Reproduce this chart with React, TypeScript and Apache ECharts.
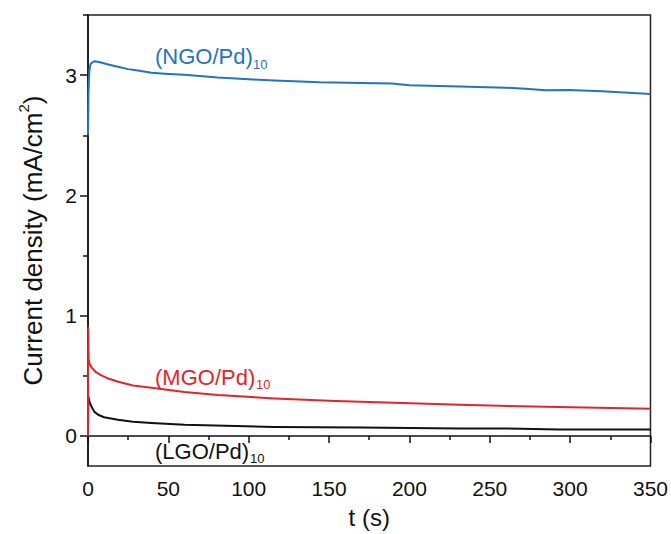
import React, { useEffect, useRef } from "react";
import * as echarts from "echarts";

const ngoT = [0, 0.3, 0.8, 1.5, 3, 4.3, 6, 8, 12, 18.6, 25, 30, 39.5, 50, 60, 80.8, 100, 116, 144, 170, 189, 200, 231, 260, 272, 285, 299, 320, 350];
const ngoV = [2.5, 2.85, 3.03, 3.09, 3.11, 3.115, 3.112, 3.105, 3.09, 3.07, 3.05, 3.04, 3.02, 3.01, 3.003, 2.98, 2.965, 2.955, 2.94, 2.935, 2.93, 2.915, 2.905, 2.895, 2.887, 2.874, 2.876, 2.865, 2.843];

const mgoT = [0, 0.15, 0.4, 1, 2.5, 5, 8, 12, 18.8, 28, 39.5, 60, 80.8, 116, 154, 196, 231, 293, 350];
const mgoV = [0, 0.9, 0.64, 0.6, 0.565, 0.53, 0.505, 0.48, 0.45, 0.42, 0.4, 0.365, 0.34, 0.312, 0.29, 0.273, 0.259, 0.24, 0.226];

const lgoT = [0, 0.2, 0.6, 1, 2.3, 4, 6.3, 10, 18.6, 28, 39.5, 60, 116, 170, 231, 260, 293, 350];
const lgoV = [0, 0.33, 0.3, 0.28, 0.24, 0.2, 0.176, 0.155, 0.135, 0.118, 0.107, 0.093, 0.074, 0.07, 0.062, 0.062, 0.053, 0.053];

const yMajorTicks = [0, 1, 2, 3];
const yMinorTicks = [0.5, 1.5, 2.5, 3.5];

const seriesNames = ["(NGO/Pd)", "(MGO/Pd)", "(LGO/Pd)"];
const subscript = "10";

const BLUE = "#2373c3";
const RED = "#e5232a";
const BLACK = "#111111";
const FONT = "Liberation Sans, Arial, sans-serif";

const zip = (t: number[], v: number[]) => t.map((x, i) => [x, v[i]]);

export default function App() {
  const ref = useRef<HTMLDivElement>(null);
  useEffect(() => {
    if (!ref.current) return;
    const chart = echarts.init(ref.current, undefined, { renderer: "svg" });
    const lineSeries = (name: string, data: number[][], color: string) => ({
      name,
      type: "line",
      data,
      showSymbol: false,
      smooth: false,
      lineStyle: { color, width: 2, join: "round" },
      itemStyle: { color },
      xAxisIndex: 0,
      yAxisIndex: 0,
    });
    const labelItems = (
      main: string,
      color: string,
      x: number,
      y: number,
      subX: number,
      subY: number
    ) => [
      {
        type: "text",
        x,
        y,
        style: { text: main, fill: color, fontSize: 22, fontFamily: FONT, verticalAlign: "middle", align: "left" },
      },
      {
        type: "text",
        x: subX,
        y: subY,
        style: { text: subscript, fill: color, fontSize: 13, fontFamily: FONT, verticalAlign: "middle", align: "left" },
      },
    ];
    chart.setOption({
      animation: false,
      backgroundColor: "#ffffff",
      grid: {
        left: 88,
        right: 19,
        top: 15,
        bottom: 67,
        show: true,
        borderColor: "#222",
        borderWidth: 1.5,
        backgroundColor: "transparent",
      },
      xAxis: {
        type: "value",
        min: 0,
        max: 350,
        interval: 50,
        name: "t (s)",
        nameLocation: "middle",
        nameGap: 39,
        nameTextStyle: { fontSize: 24, fontFamily: FONT, color: BLACK },
        axisLine: { show: true, lineStyle: { color: BLACK, width: 1.5 } },
        axisTick: { show: true, inside: false, length: 7, lineStyle: { color: BLACK, width: 1.5 } },
        minorTick: { show: true, splitNumber: 2, length: 4, lineStyle: { color: BLACK, width: 1.5 } },
        axisLabel: { fontSize: 21, fontFamily: FONT, color: BLACK, margin: 12 },
        splitLine: { show: false },
      },
      yAxis: [
        {
          type: "value",
          min: -0.25,
          max: 3.5,
          position: "left",
          name: "{a|Current density (mA/cm}{s|2}{a|)}",
          nameLocation: "middle",
          nameGap: 42,
          nameTextStyle: {
            fontSize: 26,
            fontFamily: FONT,
            color: BLACK,
            rich: {
              a: { fontSize: 26, fontFamily: FONT, color: BLACK, lineHeight: 30, verticalAlign: "bottom" },
              s: { fontSize: 15, fontFamily: FONT, color: BLACK, lineHeight: 15, verticalAlign: "top" },
            },
          },
          axisLine: { show: true, onZero: false, lineStyle: { color: BLACK, width: 1.5 } },
          axisTick: { show: true, inside: false, length: 8, customValues: yMajorTicks, lineStyle: { color: BLACK, width: 1.5 } },
          axisLabel: { fontSize: 21, fontFamily: FONT, color: BLACK, margin: 11, customValues: yMajorTicks },
          splitLine: { show: false },
        },
        {
          type: "value",
          min: -0.25,
          max: 3.5,
          position: "left",
          axisLine: { show: false },
          axisTick: { show: true, inside: false, length: 5, customValues: yMinorTicks, lineStyle: { color: BLACK, width: 1.5 } },
          axisLabel: { show: false },
          splitLine: { show: false },
        },
      ],
      series: [
        lineSeries(seriesNames[0], zip(ngoT, ngoV), BLUE),
        lineSeries(seriesNames[2], zip(lgoT, lgoV), BLACK),
        lineSeries(seriesNames[1], zip(mgoT, mgoV), RED),
      ],
      graphic: [
        ...labelItems(seriesNames[0], BLUE, 155, 56, 253, 64),
        ...labelItems(seriesNames[1], RED, 155, 377, 256, 384),
        ...labelItems(seriesNames[2], BLACK, 155, 451, 250, 458),
      ],
    });
    return () => chart.dispose();
  }, []);
  return <div ref={ref} style={{ width: 671, height: 534, position: "absolute", left: 0, top: 0 }} />;
}
